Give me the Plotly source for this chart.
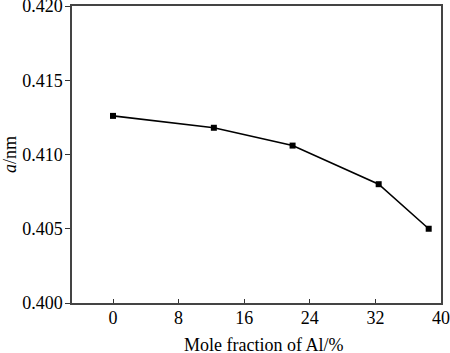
import plotly.graph_objects as go

al_fraction = [0, 12.3, 21.9, 32.4, 38.5]
lattice_a = [0.4126, 0.4118, 0.4106, 0.4080, 0.4050]
x_ticks = [0, 8, 16, 24, 32, 40]
y_ticks = [0.400, 0.405, 0.410, 0.415, 0.420]

font = "Liberation Serif"

fig = go.Figure()
fig.add_trace(go.Scatter(
    x=al_fraction, y=lattice_a, mode="lines+markers",
    line=dict(color="black", width=1.6),
    marker=dict(symbol="square", size=6, color="black"),
    showlegend=False,
))

fig.update_layout(
    width=450, height=353,
    margin=dict(l=72, r=9, t=6, b=50),
    paper_bgcolor="white", plot_bgcolor="white",
    font=dict(family=font, size=18, color="black"),
)
fig.add_annotation(
    text="Mole fraction of Al/%", xref="paper", yref="paper",
    x=0.518, y=-0.141, xanchor="center", yanchor="middle",
    showarrow=False, font=dict(family=font, size=18, color="black"),
)
fig.update_xaxes(
    range=[-5, 40], tickvals=x_ticks, ticktext=[str(v) for v in x_ticks],
    ticks="inside", ticklen=4, tickcolor="#333", tickwidth=1,
    showline=True, linecolor="#444", linewidth=1.5, mirror=True,
    showgrid=False, zeroline=False, ticklabeloverflow="allow", automargin=False,
    ticklabelstandoff=-2,
    tickfont=dict(family=font, size=18),
)
fig.update_yaxes(
    range=[0.400, 0.420], tickvals=y_ticks, ticktext=[f"{v:.3f}" for v in y_ticks],
    ticks="outside", ticklen=5, tickcolor="#333", tickwidth=1,
    showline=True, linecolor="#444", linewidth=1.5, mirror=True,
    showgrid=False, zeroline=False, ticklabeloverflow="allow", automargin=False,
    ticklabelstandoff=-1,
    tickfont=dict(family=font, size=18),
    title=dict(text="<i>a</i>/nm", standoff=2, font=dict(family=font, size=18)),
)

fig.write_html("out.html")
